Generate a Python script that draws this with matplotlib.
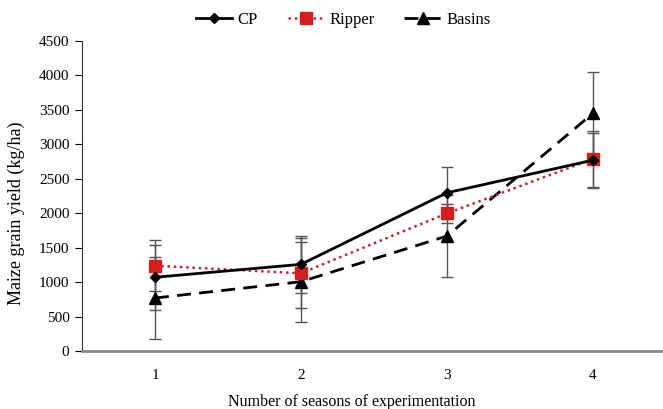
import matplotlib
matplotlib.use("Agg")
import matplotlib.pyplot as plt

seasons = [1, 2, 3, 4]
cp = [1070, 1258, 2297, 2770]
ripper = [1238, 1128, 1998, 2787]
basins = [769, 1006, 1669, 3450]
cp_err = [470, 411, 378, 400]
ripper_err = [373, 507, 140, 400]
basins_err = [595, 581, 591, 595]
yticks = [0, 500, 1000, 1500, 2000, 2500, 3000, 3500, 4000, 4500]

plt.rcParams['font.family'] = ['Liberation Serif', 'DejaVu Serif']

fig = plt.figure(figsize=(6.63, 4.09), dpi=100)
ax = fig.add_axes([82/663, 1-351/409, (663-82)/663, 310/409])

ekw = dict(ecolor='#555555', elinewidth=1.0, capsize=4, capthick=1.0)
ax.errorbar(seasons, basins, yerr=basins_err, fmt='none', **ekw)
ax.errorbar(seasons, ripper, yerr=ripper_err, fmt='none', **ekw)
ax.errorbar(seasons, cp, yerr=cp_err, fmt='none', **ekw)

ax.plot(seasons, basins, color='black', linestyle=(0, (5, 3)), linewidth=2,
        marker='^', markersize=8, label='Basins')
ax.plot(seasons, ripper, color='#b02a3a', linestyle=(0, (1, 1.5)), linewidth=1.8,
        marker='s', markersize=8, markerfacecolor='#d41f1f', markeredgecolor='#d41f1f',
        label='Ripper')
ax.plot(seasons, cp, color='black', linestyle='-', linewidth=2,
        marker='D', markersize=5.5, label='CP')

ax.set_xlim(0.5, 4.48)
ax.set_ylim(0, 4500)
ax.set_yticks(yticks)
ax.set_xticks(seasons)
ax.tick_params(axis='y', direction='out', length=5, labelsize=11, pad=4)
ax.tick_params(axis='x', length=0, labelsize=11, pad=13)
for s in ['top', 'right']:
    ax.spines[s].set_visible(False)
ax.spines['left'].set_color('#333333')
ax.spines['bottom'].set_color('#888888')
ax.spines['bottom'].set_linewidth(2)

ax.set_ylabel('Maize grain yield (kg/ha)', fontsize=13)
ax.yaxis.set_label_coords(-57/581, 0.445)
fig.text(352/663, 1-402/409, 'Number of seasons of experimentation',
         ha='center', va='center', fontsize=11.5)

handles, labels = ax.get_legend_handles_labels()
order = [2, 1, 0]
fig.legend([handles[i] for i in order], [labels[i] for i in order],
           loc='center', bbox_to_anchor=(343/663, 1-20/409), ncol=3, frameon=False,
           fontsize=12, handlelength=2.2, columnspacing=1.8, handletextpad=0.3)

fig.savefig('out.png', dpi=100)
